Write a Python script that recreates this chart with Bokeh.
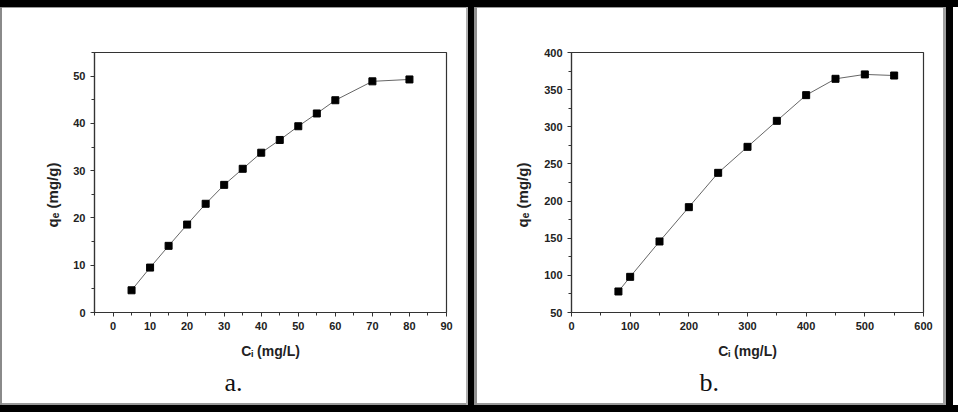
from bokeh.plotting import figure
from bokeh.models import FixedTicker, Div, Range1d, Title
from bokeh.layouts import row, column
from bokeh.embed import file_html
from bokeh.resources import INLINE

# ---------------- data ----------------
ci_a = [5, 10, 15, 20, 25, 30, 35, 40, 45, 50, 55, 60, 70, 80]
qe_a = [4.7, 9.5, 14.1, 18.6, 23.0, 27.0, 30.4, 33.8, 36.5, 39.4, 42.1, 44.9, 48.9, 49.3]

ci_b = [80, 100, 150, 200, 250, 300, 350, 400, 450, 500, 550]
qe_b = [78.3, 98.0, 145.6, 191.8, 238.0, 273.0, 308.0, 342.6, 364.6, 370.5, 369.0]

xticks_a = [0, 10, 20, 30, 40, 50, 60, 70, 80, 90]
xminor_a = [-5, 5, 15, 25, 35, 45, 55, 65, 75, 85]
yticks_a = [0, 10, 20, 30, 40, 50]
yminor_a = [5, 15, 25, 35, 45, 55]

xticks_b = [0, 100, 200, 300, 400, 500, 600]
xminor_b = [50, 150, 250, 350, 450, 550]
yticks_b = [50, 100, 150, 200, 250, 300, 350, 400]
yminor_b = [75, 125, 175, 225, 275, 325, 375]

x_label = "C\u1d62 (mg/L)"
y_label = "q\u2091 (mg/g)" + "\u00a0" * 6
panel_a_label = "a."
panel_b_label = "b."

# ---------------- layout constants ----------------
FIG_H = 395
TEXT = "#222222"
AX = "#333333"


def make_panel(xr, yr, xt, xm, yt, ym, fig_w, mb_left, mb_right, ylab_standoff, tag, tag_offset):
    p = figure(width=fig_w, height=FIG_H,
               x_range=Range1d(*xr), y_range=Range1d(*yr),
               output_backend="svg", toolbar_location=None,
               min_border_left=mb_left, min_border_right=mb_right,
               min_border_top=44, min_border_bottom=91)
    p.background_fill_color = "white"
    p.border_fill_color = "white"
    p.outline_line_color = AX
    p.outline_line_width = 1.2
    p.grid.visible = False
    p.xaxis.ticker = FixedTicker(ticks=xt, minor_ticks=xm)
    p.yaxis.ticker = FixedTicker(ticks=yt, minor_ticks=ym)
    for ax in (p.xaxis[0], p.yaxis[0]):
        ax.axis_line_color = AX
        ax.axis_line_width = 1.2
        ax.major_tick_line_color = AX
        ax.minor_tick_line_color = AX
        ax.major_tick_in = 0
        ax.major_tick_out = 4
        ax.minor_tick_in = 0
        ax.minor_tick_out = 3
        ax.major_label_text_font = "Liberation Sans"
        ax.major_label_text_font_style = "bold"
        ax.major_label_text_font_size = "11px"
        ax.major_label_text_color = TEXT
        ax.axis_label_text_font = "Liberation Sans"
        ax.axis_label_text_font_style = "bold"
        ax.axis_label_text_color = TEXT
    p.xaxis.major_label_standoff = 5
    p.yaxis.major_label_standoff = 5
    p.xaxis.axis_label = x_label
    p.xaxis.axis_label_text_font_size = "14px"
    p.xaxis.axis_label_standoff = 10
    p.yaxis.axis_label = y_label
    p.yaxis.axis_label_text_font_size = "15px"
    p.yaxis.axis_label_standoff = ylab_standoff
    p.add_layout(Title(text=tag, align="left", offset=tag_offset, standoff=8,
                       text_font="Liberation Serif", text_font_size="26px",
                       text_font_style="normal", text_color="#111111"), "below")
    return p


# ---------------- panel a ----------------
p1 = make_panel((-5, 90), (0, 55), xticks_a, xminor_a, yticks_a, yminor_a,
                464, 92, 20, 9, panel_a_label, 130)
p1.line(ci_a, qe_a, line_color="#666666", line_width=1)
p1.scatter(ci_a, qe_a, marker="square", size=7, fill_color="black", line_color="black")

# ---------------- panel b ----------------
p2 = make_panel((0, 600), (50, 400), xticks_b, xminor_b, yticks_b, yminor_b,
                466, 94, 20, 10, panel_b_label, 128)
p2.line(ci_b, qe_b, line_color="#666666", line_width=1)
p2.scatter(ci_b, qe_b, marker="square", size=7, fill_color="black", line_color="black")


# ---------------- frame (black borders) ----------------
def block(w, h, color):
    return Div(text="", width=w, height=h, margin=0,
               styles={"background-color": color})


col_a = column(block(464, 1, "#9a9a9a"), p1, block(464, 2, "#999999"), spacing=0)
col_b = column(block(466, 1, "#9a9a9a"), p2, block(466, 2, "#999999"), spacing=0)
mid = row(block(2, 398, "#8a8a8a"), col_a, block(2, 398, "#b0b0b0"),
          block(6, 398, "#000000"), block(3, 398, "#909090"), col_b,
          block(3, 398, "#a0a0a0"), block(7, 398, "#000000"),
          block(5, 398, "#ffffff"), spacing=0)
layout = column(block(958, 7, "#000000"), mid, block(958, 7, "#000000"), spacing=0)

open("out.html", "w").write(file_html(layout, INLINE))
